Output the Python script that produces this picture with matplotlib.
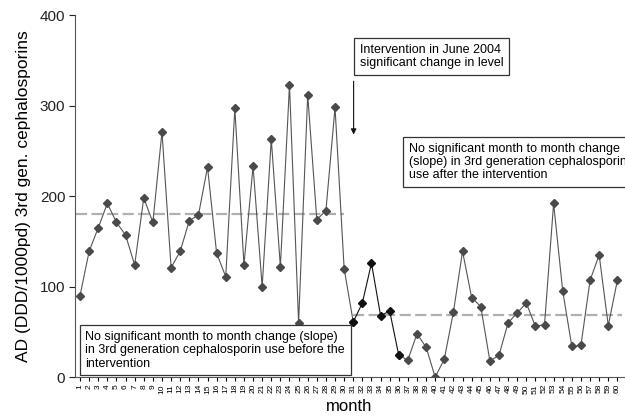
import numpy as np
import matplotlib
matplotlib.use("Agg")
import matplotlib.pyplot as plt

months = np.arange(1, 61)
usage = [90, 139, 165, 192, 171, 157, 124, 198, 171, 271,
         121, 139, 173, 179, 232, 137, 111, 297, 124, 233,
         100, 263, 122, 323, 60, 312, 174, 184, 298, 120,
         61, 82, 126, 68, 73, 24, 19, 48, 33, 0,
         20, 72, 139, 88, 78, 18, 24, 60, 71, 82,
         56, 58, 192, 95, 34, 35, 107, 135, 57, 107]
mean_before = 180
mean_after = 68.5

plt.rcParams['font.family'] = ['Liberation Sans', 'DejaVu Sans']
fig = plt.figure(figsize=(6.25, 4.2), dpi=100)
ax = fig.add_axes([0.12, 0.102, 0.878, 0.862])

u = np.array(usage)
# pre intervention and post
ax.plot(months[:31], u[:31], color="#555555", lw=0.8, marker="D", ms=4,
        mfc="#4a4a4a", mec="#4a4a4a", zorder=3)
ax.plot(months[30:36], u[30:36], color="#111111", lw=0.8, marker="D", ms=4,
        mfc="#111111", mec="#111111", zorder=4)
ax.plot(months[35:], u[35:], color="#555555", lw=0.8, marker="D", ms=4,
        mfc="#4a4a4a", mec="#4a4a4a", zorder=3)

ax.plot([0.6, 30], [mean_before, mean_before], color="#b0b0b0", lw=1.6, ls=(0, (5, 2)), zorder=2)
ax.plot([31, 60.5], [mean_after, mean_after], color="#b0b0b0", lw=1.6, ls=(0, (5, 2)), zorder=2)

ax.set_xlim(0.45, 60.7)
ax.set_ylim(0, 400)
ax.set_yticks([0, 100, 200, 300, 400])
ax.set_xticks(months)
ax.set_xticklabels([str(m) for m in months], rotation=90, fontsize=6)
ax.tick_params(axis="y", labelsize=11, direction="out", length=4, pad=3, colors="#222222")
ax.tick_params(axis="x", direction="out", length=3, pad=2)
for s in ["top", "right"]:
    ax.spines[s].set_visible(False)
for s in ["left", "bottom"]:
    ax.spines[s].set_color("#555555")
ax.set_xlabel("month", fontsize=12, labelpad=4)
ax.set_ylabel("AD (DDD/1000pd) 3rd gen. cephalosporins", fontsize=12.5, labelpad=6)

box = dict(boxstyle="square,pad=0.45", fc="white", ec="#333333", lw=0.9)
ax.text(31.75, 368, "Intervention in June 2004\nsignificant change in level",
        fontsize=9, va="top", ha="left", bbox=box, linespacing=1.15, zorder=5)
ax.annotate("", xy=(31.04, 265), xytext=(31.04, 330),
            arrowprops=dict(arrowstyle="-|>", color="#111111", lw=0.8, mutation_scale=8))
ax.text(37.1, 259, "No significant month to month change\n(slope) in 3rd generation cephalosporins\nuse after the intervention",
        fontsize=9, va="top", ha="left", bbox=box, linespacing=1.15, zorder=5, clip_on=False)
ax.text(1.6, 51, "No significant month to month change (slope)\nin 3rd generation cephalosporin use before the\nintervention",
        fontsize=9, va="top", ha="left", bbox=box, linespacing=1.15, zorder=5)

fig.savefig("out.png", dpi=100)
